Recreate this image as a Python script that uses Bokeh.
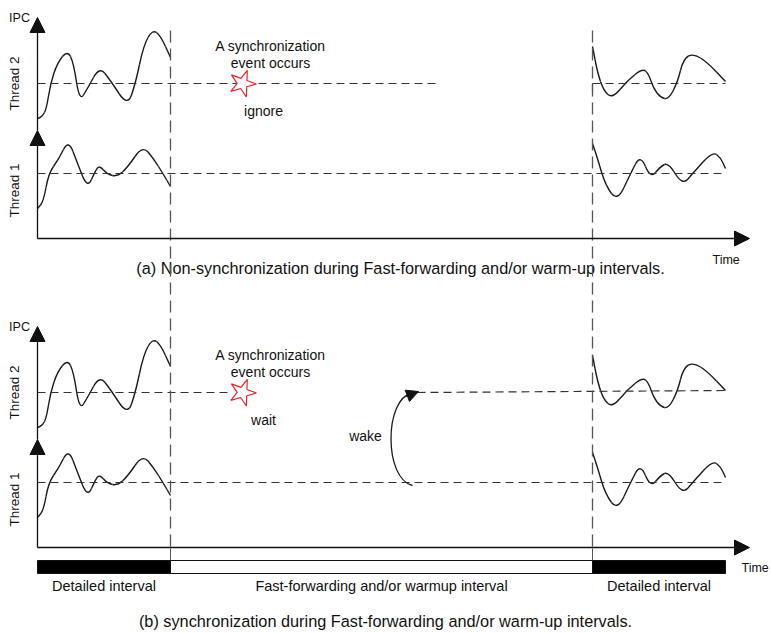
import numpy as np
from bokeh.plotting import figure
from bokeh.models import Range1d, Arrow, NormalHead
from bokeh.embed import file_html
from bokeh.resources import INLINE
from bokeh.core.properties import value

# ---- diagram data (pixel coordinates of panel (a); panel (b) is shifted down) ----
panel_offsets = [0, 309]

t2_left_x = [37, 42, 46, 50, 57, 67, 73, 79, 87, 99, 110, 127, 135, 143, 152, 160, 170]
t2_left_y = [118, 116, 108, 83, 62, 50, 62, 101, 88, 66, 80, 106, 83, 45, 29, 35, 57]
t1_left_x = [37, 43, 48, 58, 68, 77, 87, 95, 99, 107, 117, 127, 142, 153, 163, 170]
t1_left_y = [208, 201, 173, 159, 139, 163, 188, 170, 165, 174, 176, 167, 145, 158, 174, 186]
t2_right_x = [592, 597, 603, 612, 627, 642, 648, 653, 660, 668, 677, 683, 693, 707, 725]
t2_right_y = [46, 72, 90, 98, 80, 68, 73, 88, 97, 99, 82, 58, 53, 62, 81]
t1_right_x = [592, 597, 605, 617, 630, 640, 650, 660, 668, 682, 693, 712, 720, 725]
t1_right_y = [143, 158, 185, 201, 173, 154, 178, 166, 162, 185, 172, 151, 157, 168]

thread_labels = ["Thread 2", "Thread 1"]
bar_labels = ["Detailed interval", "Fast-forwarding and/or warmup interval", "Detailed interval"]
bar_edges = [37, 170, 592, 725]
bar_colors = ["black", "white", "black"]
captions = ["(a) Non-synchronization during Fast-forwarding and/or warm-up intervals.",
            "(b) synchronization during Fast-forwarding and/or warm-up intervals."]
caption_pos = [(400, 267), (385, 620)]
time_pos = [(712, 259), (741, 567)]
event_notes = ["ignore", "wait"]

FONT = value("Liberation Sans")

p = figure(width=771, height=633, output_backend="svg", toolbar_location=None,
           x_range=Range1d(0, 771), y_range=Range1d(633, 0),
           min_border=0, outline_line_color=None)
p.axis.visible = False
p.grid.visible = False
p.background_fill_color = "white"
p.border_fill_color = "white"


def smooth(xs, ys, dy):
    xs = np.asarray(xs, float)
    ys = np.asarray(ys, float) + dy
    mx = (xs[:-1] + xs[1:]) / 2
    my = (ys[:-1] + ys[1:]) / 2
    p.segment(x0=[xs[0], mx[-1]], y0=[ys[0], my[-1]], x1=[mx[0], xs[-1]], y1=[my[0], ys[-1]],
              line_color="#1a1a1a", line_width=1.4)
    p.quadratic(x0=mx[:-1], y0=my[:-1], x1=mx[1:], y1=my[1:], cx=xs[1:-1], cy=ys[1:-1],
                line_color="#1a1a1a", line_width=1.4)


def txt(x, y, s, size="14px", align="center", angle=0):
    p.text(x=[x], y=[y], text=[s], text_font=FONT, text_font_size=size,
           text_align=align, text_baseline="middle", text_color="#111111", angle=angle)


def arrow(x0, y0, x1, y1, size=13):
    p.add_layout(Arrow(end=NormalHead(size=size, fill_color="#111111", line_color="#111111"),
                       x_start=x0, y_start=y0, x_end=x1, y_end=y1,
                       line_color="#111111", line_width=1.3))


DASH_H = dict(line_color="#333333", line_width=1.2, line_dash="8 5")

for i, dy in enumerate(panel_offsets):
    # axes
    arrow(37, 238 + dy, 37, 130 + dy, 15)
    arrow(37, 130 + dy, 37, 17 + dy, 15)
    arrow(37, 238 + dy, 749, 238 + dy, 15)
    txt(19, 17 + dy, "IPC", "12.5px")
    txt(14, 83 + dy, thread_labels[0], "13.5px", angle=np.pi / 2)
    txt(14, 190 + dy, thread_labels[1], "13.5px", angle=np.pi / 2)

    # curves
    smooth(t2_left_x, t2_left_y, dy)
    smooth(t1_left_x, t1_left_y, dy)
    smooth(t2_right_x, t2_right_y, dy)
    smooth(t1_right_x, t1_right_y, dy)

    # baselines
    p.segment(x0=[37], y0=[173 + dy], x1=[725], y1=[173 + dy], **DASH_H)
    if i == 0:
        p.segment(x0=[37, 592], y0=[83, 83], x1=[437, 725], y1=[83, 83], **DASH_H)
        p.segment(x0=[592], y0=[83], x1=[592], y1=[92], line_color="#333333", line_width=1.2)
    else:
        p.segment(x0=[37, 417], y0=[83 + dy, 83 + dy], x1=[232, 725], y1=[83 + dy, 81 + dy], **DASH_H)

    # synchronization event
    txt(270, 45 + dy, "A synchronization")
    txt(270, 62 + dy, "event occurs")
    p.scatter(x=[242], y=[83 + dy], marker="star", size=28, angle=-0.35,
              fill_color="white", line_color="#e8242a", line_width=1.2)
    txt(263, 110 + dy, event_notes[i])

    txt(caption_pos[i][0], caption_pos[i][1], captions[i], "16.3px")
    txt(time_pos[i][0], time_pos[i][1], "Time", "12.5px", align="left")

# vertical interval boundaries
p.segment(x0=[170, 592], y0=[30, 30], x1=[170, 592], y1=[548, 548],
          line_color="#555555", line_width=1.3, line_dash="12 6")
p.segment(x0=[170, 592], y0=[548, 548], x1=[170, 592], y1=[560, 560],
          line_color="#555555", line_width=1.0)

# wake arrow
p.bezier(x0=[412], y0=[485], x1=[411], y1=[393], cx0=[383], cy0=[478], cx1=[384], cy1=[398],
         line_color="#1a1a1a", line_width=1.3)
arrow(405, 396, 418, 391, 12)
txt(365, 435, "wake")

# timeline bar
p.quad(left=bar_edges[:-1], right=bar_edges[1:], top=[560] * 3, bottom=[573] * 3,
       fill_color=bar_colors, line_color="#111111", line_width=1.0)
for j, lab in enumerate(bar_labels):
    txt((bar_edges[j] + bar_edges[j + 1]) / 2, 585, lab, "14.5px")

open("out.html", "w").write(file_html(p, INLINE))
